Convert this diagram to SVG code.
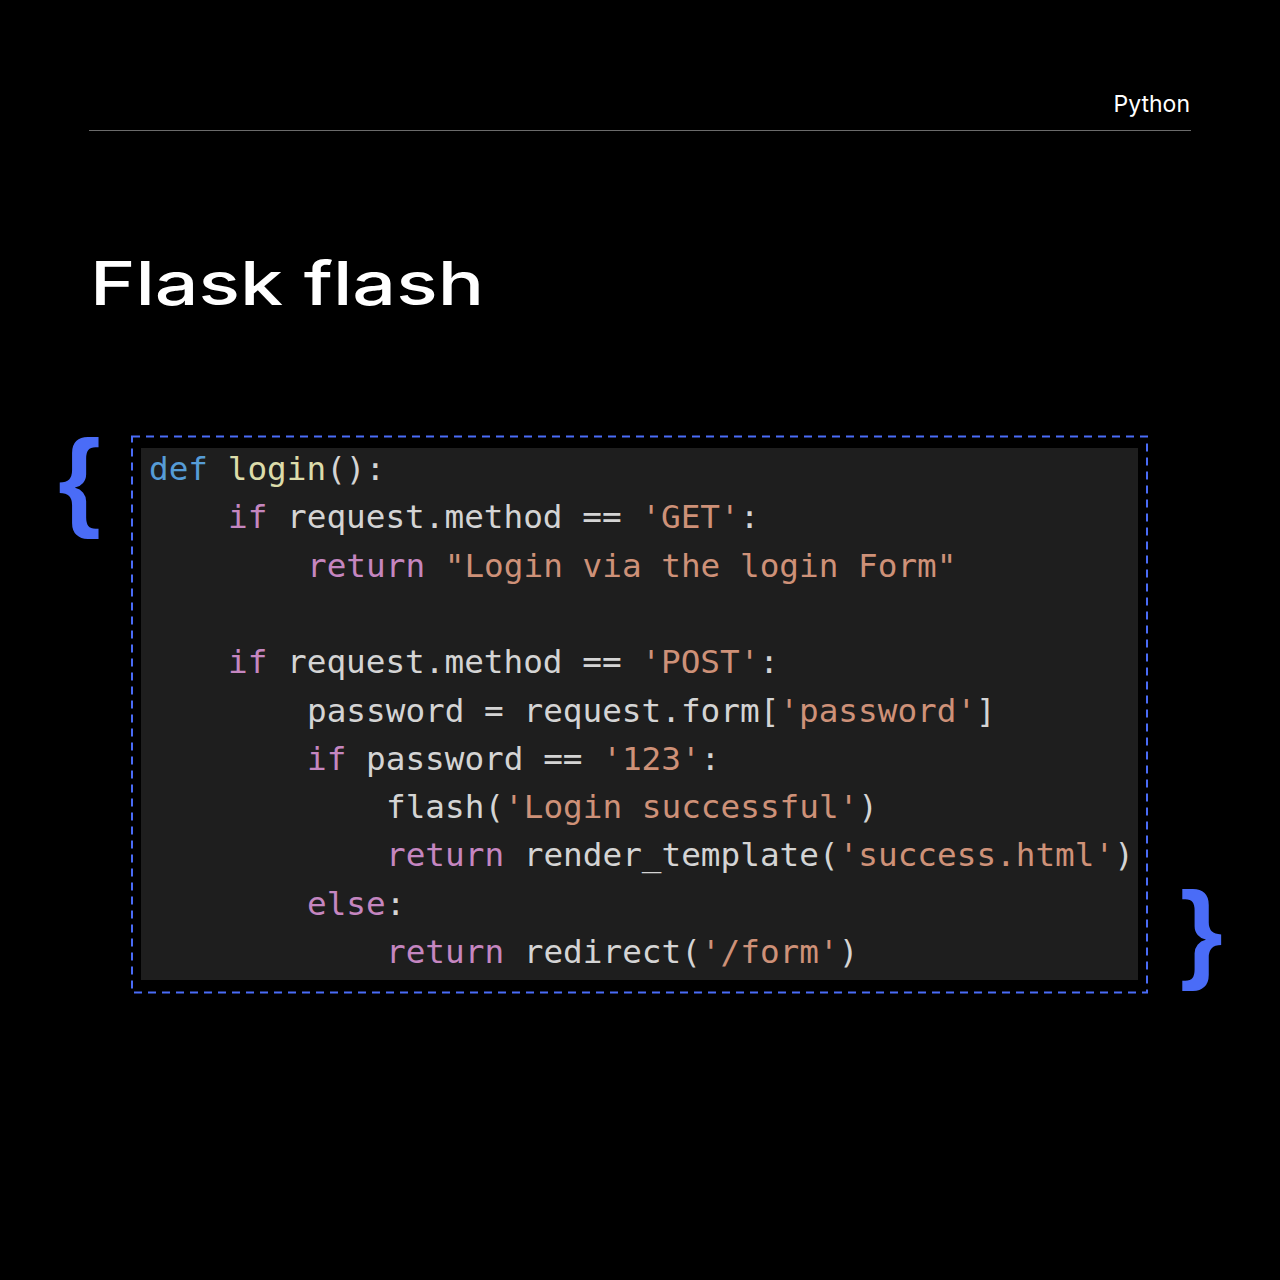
<svg xmlns="http://www.w3.org/2000/svg" width="1280" height="1280" viewBox="0 0 1280 1280">
<style>
.code{font-family:"DejaVu Sans Mono","Liberation Mono",monospace;font-size:32.7px;fill:#d4d4d4}
.kw{fill:#c586c0}.df{fill:#569cd6}.fn{fill:#dcdcaa}.st{fill:#ce9178}
.brace{font-family:"Liberation Sans",Arial,sans-serif;font-size:110px;font-weight:bold;fill:#4a6cf7}
</style>
<rect width="1280" height="1280" fill="#000"/>
<g id="header">
<text x="1190" y="112" text-anchor="end" font-family="Inter,'Liberation Sans',sans-serif" font-size="23" fill="#fff">Python</text>
<line x1="89" y1="130.5" x2="1191" y2="130.5" stroke="#6b6b6b" stroke-width="1"/>
</g>
<g id="title">
<text x="90" y="305" font-family="Inter,'Liberation Sans',Arial,sans-serif" font-weight="500" font-size="60" fill="#fff" textLength="394" lengthAdjust="spacingAndGlyphs">Flask flash</text>
</g>
<g id="code-block">
<rect x="132" y="436.5" width="1015" height="556" fill="none" stroke="#4a6cf7" stroke-width="2" stroke-dasharray="8 6"/>
<rect x="141" y="448" width="997" height="532" fill="#1e1e1e"/>
<text class="code">
<tspan x="149" y="480"><tspan class="df">def</tspan> <tspan class="fn">login</tspan>():</tspan>
<tspan x="228" y="528"><tspan class="kw">if</tspan> request.method == <tspan class="st">'GET'</tspan>:</tspan>
<tspan x="307" y="577"><tspan class="kw">return</tspan> <tspan class="st">"Login via the login Form"</tspan></tspan>
<tspan x="228" y="673"><tspan class="kw">if</tspan> request.method == <tspan class="st">'POST'</tspan>:</tspan>
<tspan x="307" y="722">password = request.form[<tspan class="st">'password'</tspan>]</tspan>
<tspan x="307" y="770"><tspan class="kw">if</tspan> password == <tspan class="st">'123'</tspan>:</tspan>
<tspan x="386" y="818">flash(<tspan class="st">'Login successful'</tspan>)</tspan>
<tspan x="386" y="866"><tspan class="kw">return</tspan> render_template(<tspan class="st">'success.html'</tspan>)</tspan>
<tspan x="307" y="915"><tspan class="kw">else</tspan>:</tspan>
<tspan x="386" y="963"><tspan class="kw">return</tspan> redirect(<tspan class="st">'/form'</tspan>)</tspan>
</text>
</g>
<g id="braces">
<text class="brace" x="58" y="516">{</text>
<text class="brace" x="1180" y="968">}</text>
</g>
</svg>
